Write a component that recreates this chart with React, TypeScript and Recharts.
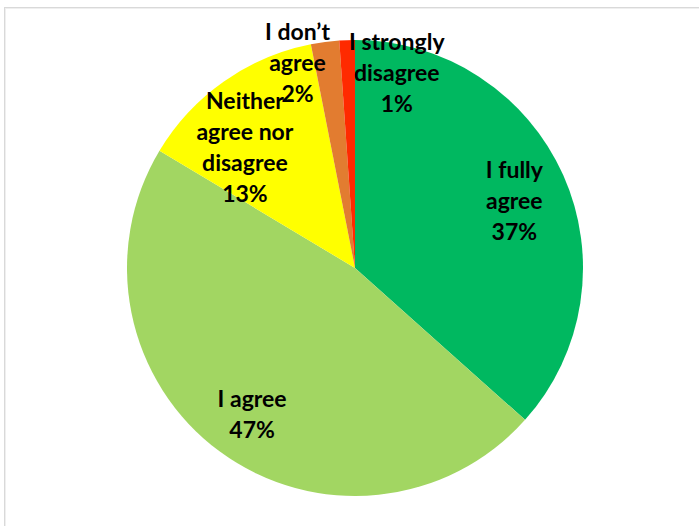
import { PieChart, Pie, Cell } from 'recharts'

const categories = ['I fully agree', 'I agree', 'Neither agree nor disagree', 'I don\u2019t agree', 'I strongly disagree']
const shares = [36.6, 47.0, 13.3, 2.0, 1.1]
const percentLabels = ['37%', '47%', '13%', '2%', '1%']
// label lines as Excel wrapped them
const labelLines = [
  ['I fully', 'agree'],
  ['I agree'],
  ['Neither', 'agree nor', 'disagree'],
  ['I don\u2019t', 'agree'],
  ['I strongly', 'disagree'],
]

const colors = ['#00B860', '#A2D662', '#FFFF00', '#E27C30', '#FF2A00']
// radius factor + angle shift (deg, clockwise) for each label, like Excel's best fit
const labelPlace = [
  { r: 0.76, shift: 1 },
  { r: 0.78, shift: -1 },
  { r: 0.72, shift: -7 },
  { r: 0.94, shift: -8 },
  { r: 0.88, shift: 14 },
]

const data = categories.map((name, i) => ({ name, value: shares[i] }))

const LINE_H = 31

function renderLabel(props: any) {
  const { cx, cy, midAngle, outerRadius, index } = props
  const place = labelPlace[index]
  const theta = ((90 - midAngle + place.shift) * Math.PI) / 180
  const x = cx + outerRadius * place.r * Math.sin(theta)
  const y = cy - outerRadius * place.r * Math.cos(theta)
  const lines = [...labelLines[index], percentLabels[index]]
  const top = y - ((lines.length - 1) * LINE_H) / 2
  return (
    <text
      key={'lbl' + index}
      x={x}
      y={top}
      textAnchor="middle"
      dominantBaseline="central"
      fill="#000"
      fontFamily="Lato, 'Noto Sans', sans-serif"
      fontWeight={700}
      fontSize={23}
    >
      {lines.map((t, j) => (
        <tspan key={j} x={x} y={top + j * LINE_H}>
          {t}
        </tspan>
      ))}
    </text>
  )
}

export default function App() {
  return (
    <div style={{ position: 'fixed', left: 0, top: 0, width: 699, height: 526, background: '#fff', overflow: 'hidden' }}>
      <style>{`.recharts-pie-sectors { filter: drop-shadow(3px 5px 5px rgba(0,0,0,0.28)); }`}</style>
      <div
        style={{
          position: 'absolute',
          left: 4,
          top: 7,
          width: 700,
          height: 540,
          border: '1px solid #D9D9D9',
          boxShadow: 'inset 1px 1px 0 #EFEFEF',
        }}
      />
      <div style={{ position: 'absolute', left: 0, top: 0 }}>
        <PieChart width={699} height={526} margin={{ top: 0, right: 0, bottom: 0, left: 0 }}>
          <Pie
            data={data}
            dataKey="value"
            nameKey="name"
            cx={355}
            cy={268}
            outerRadius={228}
            startAngle={90}
            endAngle={-270}
            stroke="none"
            labelLine={false}
            label={renderLabel}
            isAnimationActive={false}
          >
            {data.map((d, i) => (
              <Cell key={d.name} fill={colors[i]} />
            ))}
          </Pie>
        </PieChart>
      </div>
    </div>
  )
}
